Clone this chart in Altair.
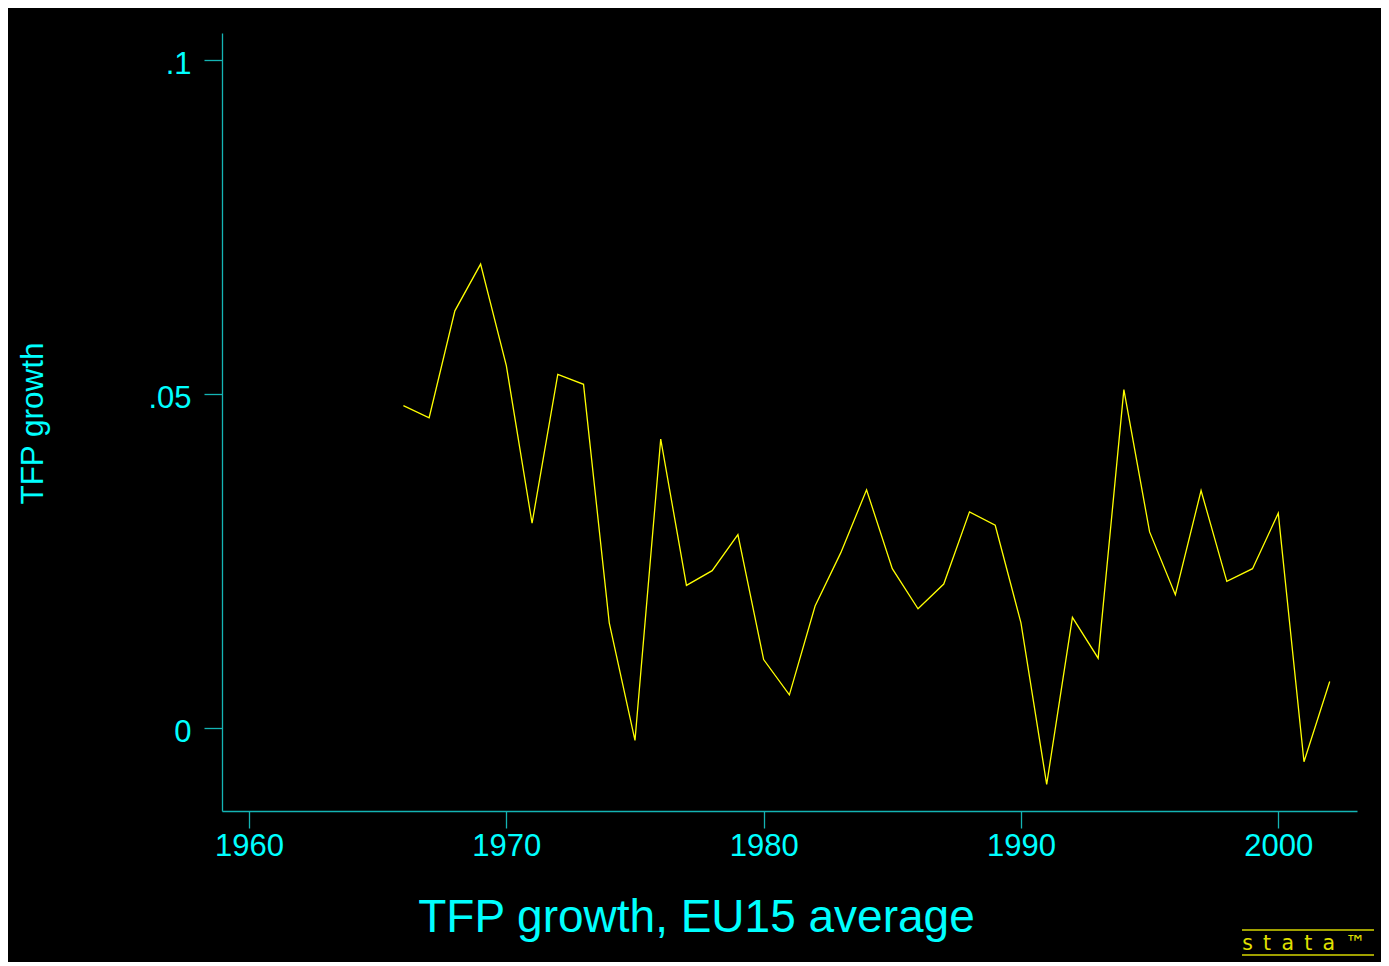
import altair as alt
import pandas as pd

# ---- data ----
years = list(range(1966, 2003))
tfp_growth = [0.0482, 0.0464, 0.0624, 0.0694, 0.0542, 0.0306, 0.0529, 0.0514,
              0.0157, -0.0019, 0.0432, 0.0213, 0.0235, 0.0289, 0.0102, 0.0049,
              0.0182, 0.0262, 0.0356, 0.0238, 0.0178, 0.0215, 0.0323, 0.0303,
              0.0157, -0.0085, 0.0165, 0.0104, 0.0506, 0.0293, 0.0199, 0.0355,
              0.0219, 0.0238, 0.0321, -0.0051, 0.0069]

x_ticks = [1960, 1970, 1980, 1990, 2000]
y_ticks = [0, 0.05, 0.1]
y_labels = ["0", ".05", ".1"]

x_title = "TFP growth, EU15 average"
y_title = "TFP growth"
logo_text = "s\u2002t\u2002a\u2002t\u2002a\u2002™"

df = pd.DataFrame({"year": years, "tfp": tfp_growth})

AXIS_COL = "#14b4b4"
TEXT_COL = "#00ffff"
FONT = "Liberation Sans"

ylabel_expr = " : ".join(
    [f"datum.value == {v} ? '{l}'" for v, l in zip(y_ticks, y_labels)] + ["''"]
)

line = alt.Chart(df).mark_line(color="#ffff00", strokeWidth=1.3).encode(
    x=alt.X(
        "year:Q",
        scale=alt.Scale(domain=[1958.95, 2003.06], nice=False, zero=False),
        axis=alt.Axis(
            values=x_ticks, format="d", grid=False,
            domainColor=AXIS_COL, domainWidth=1.3,
            tickColor=AXIS_COL, tickWidth=1.3, tickSize=17,
            labelColor=TEXT_COL, labelFont=FONT, labelFontSize=31,
            labelBaseline="alphabetic", labelPadding=27, labelAlign="center",
            title=x_title, titleColor=TEXT_COL, titleFont=FONT,
            titleFontSize=46, titleFontWeight="normal",
            titleX=474, titleY=120, titleAlign="center",
            titleBaseline="alphabetic", titleAngle=0,
        ),
    ),
    y=alt.Y(
        "tfp:Q",
        scale=alt.Scale(domain=[-0.01248, 0.1040], nice=False, zero=False),
        axis=alt.Axis(
            values=y_ticks, labelExpr=ylabel_expr, grid=False,
            domainColor=AXIS_COL, domainWidth=1.3,
            tickColor=AXIS_COL, tickWidth=1.3, tickSize=18,
            labelColor=TEXT_COL, labelFont=FONT, labelFontSize=31,
            labelBaseline="alphabetic", labelOffset=14, labelPadding=13,
            labelAlign="right",
            title=y_title, titleColor=TEXT_COL, titleFont=FONT,
            titleFontSize=31.5, titleFontWeight="normal",
            titleX=-180, titleY=390, titleAlign="center",
            titleBaseline="alphabetic", titleAngle=270,
        ),
    ),
)

logo_df = pd.DataFrame({"t": [logo_text]})
logo_top = alt.Chart(logo_df).mark_rule(color="#a0a000", strokeWidth=2).encode(
    x=alt.value(1020), x2=alt.value(1152), y=alt.value(897)
)
logo_bot = alt.Chart(logo_df).mark_rule(color="#a0a000", strokeWidth=2).encode(
    x=alt.value(1020), x2=alt.value(1152), y=alt.value(922)
)
logo_txt = alt.Chart(logo_df).mark_text(
    color="#e0e000", font="DejaVu Sans", fontSize=20.5, align="center",
    baseline="alphabetic"
).encode(x=alt.value(1082), y=alt.value(917), text="t:N")

chart = alt.layer(line, logo_top, logo_bot, logo_txt).properties(
    width=1135,
    height=778,
    padding={"left": 214, "top": 25, "right": 24, "bottom": 151},
    autosize="none",
    background="#000000",
).configure_view(stroke=None)

chart.save("out.html", embed_options={"renderer": "svg", "actions": False})
